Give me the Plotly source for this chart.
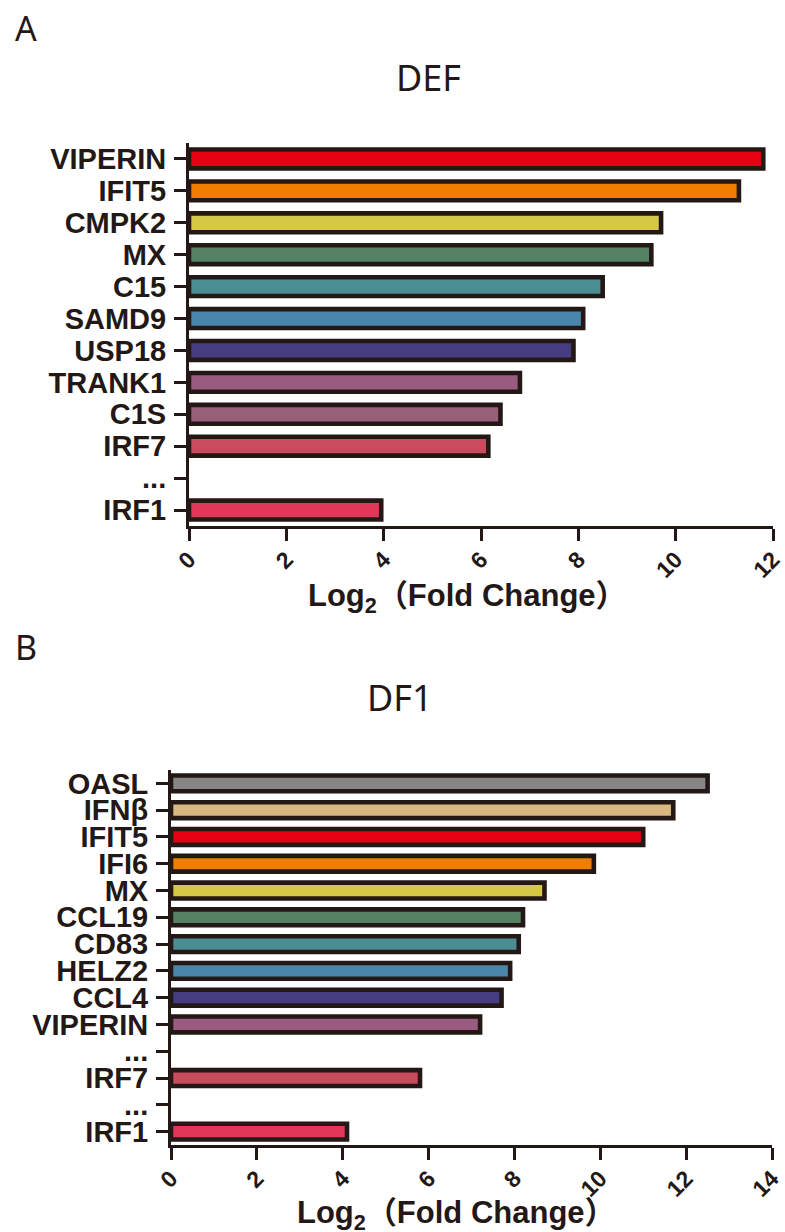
import plotly.graph_objects as go

W, H = 785, 1232

# ---- data ----
def_genes = ["VIPERIN", "IFIT5", "CMPK2", "MX", "C15", "SAMD9", "USP18",
             "TRANK1", "C1S", "IRF7", "...", "IRF1"]
def_values = [11.8, 11.3, 9.7, 9.5, 8.5, 8.1, 7.9, 6.8, 6.4, 6.15, None, 3.95]
def_colors = ["#E50012", "#EF7D00", "#D4C845", "#548262", "#4A8E93", "#4A86A9",
              "#463C82", "#9A5B80", "#956078", "#C94B5E", "#FFFFFF", "#E1385A"]

df1_genes = ["OASL", "IFNβ", "IFIT5", "IFI6", "MX", "CCL19", "CD83", "HELZ2",
             "CCL4", "VIPERIN", "...", "IRF7", "...", "IRF1"]
df1_values = [12.5, 11.7, 11.0, 9.85, 8.7, 8.2, 8.1, 7.9, 7.7, 7.2, None, 5.8, None, 4.1]
df1_colors = ["#868686", "#D8B880", "#E50012", "#EF7D00", "#D4C845", "#548262",
              "#4A8E93", "#4A86A9", "#463C82", "#9A5B80", "#FFFFFF", "#C94B5E",
              "#FFFFFF", "#E1385A"]

def_xticks = [0, 2, 4, 6, 8, 10, 12]
df1_xticks = [0, 2, 4, 6, 8, 10, 12, 14]

INK = "#231815"
LBL = "Liberation Sans, Arial, Noto Sans CJK SC, sans-serif"

def px_x(p):
    return p / W

def px_y(p):
    return 1 - p / H

fig = go.Figure()

def add_panel(genes, values, colors, xaxis, yaxis):
    idx = list(range(len(genes)))
    fig.add_trace(go.Bar(
        x=[v if v is not None else 0 for v in values], y=idx, orientation="h",
        width=0.59,
        marker=dict(color=colors,
                    line=dict(color=[INK if v is not None else "rgba(0,0,0,0)" for v in values],
                              width=4.6)),
        xaxis=xaxis, yaxis=yaxis, showlegend=False, hoverinfo="skip",
    ))

add_panel(def_genes, def_values, def_colors, "x", "y")
add_panel(df1_genes, df1_values, df1_colors, "x2", "y2")

xcommon = dict(showgrid=False, zeroline=False, showline=True, linecolor=INK, linewidth=3,
               ticks="outside", ticklen=12, tickwidth=3, tickcolor=INK, tickangle=-45,
               automargin=False, ticklabelstandoff=-4,
               tickfont=dict(family=LBL, size=23, color=INK, weight="bold"))
ycommon = dict(showgrid=False, zeroline=False, showline=True, linecolor=INK, linewidth=3,
               ticks="outside", ticklen=12, tickwidth=3, tickcolor=INK,
               ticklabelstandoff=2, automargin=False,
               tickfont=dict(family=LBL, size=29, color=INK, weight="bold"))

fig.update_layout(
    width=W, height=H, margin=dict(l=0, r=0, t=0, b=0, autoexpand=False),
    paper_bgcolor="white", plot_bgcolor="white", bargap=0,
    xaxis=dict(**xcommon, domain=[px_x(189), px_x(773)], range=[0, 12],
               tickvals=def_xticks, anchor="y"),
    yaxis=dict(**ycommon, domain=[px_y(526), px_y(143)],
               range=[len(def_genes) - 0.5, -0.5],
               tickvals=list(range(len(def_genes))), ticktext=def_genes, anchor="x"),
    xaxis2=dict(**xcommon, domain=[px_x(171), px_x(772)], range=[0, 14],
                tickvals=df1_xticks, anchor="y2"),
    yaxis2=dict(**ycommon, domain=[px_y(1145), px_y(770)],
                range=[len(df1_genes) - 0.5, -0.5],
                tickvals=list(range(len(df1_genes))), ticktext=df1_genes, anchor="x2"),
)

def ann(text, x, y, size, family, weight="normal"):
    fig.add_annotation(text=text, x=px_x(x), y=px_y(y), xref="paper", yref="paper",
                       showarrow=False, xanchor="center", yanchor="middle",
                       font=dict(family=family, size=size, color=INK, weight=weight))

ann("A", 26, 28, 34, "Noto Sans, sans-serif")
ann("B", 26, 647, 34, "Noto Sans, sans-serif")
ann("DEF", 428, 77, 36, "Noto Sans, sans-serif")
ann("DF1", 400, 697, 36, "Noto Sans, sans-serif")
ann("Log<sub>2</sub>（Fold Change）", 467, 598, 31, LBL, "bold")
ann("Log<sub>2</sub>（Fold Change）", 456, 1215, 31, LBL, "bold")

fig.write_html("out.html",
               config={"displayModeBar": False, "staticPlot": True},
               post_script="document.body.style.margin='0px';"
                           "document.body.style.overflow='hidden';")
